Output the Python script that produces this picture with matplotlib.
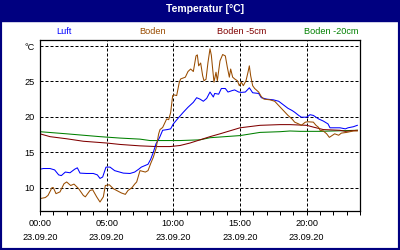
import matplotlib
matplotlib.use("Agg")
import matplotlib.pyplot as plt
from matplotlib.patches import Rectangle

# ── Data (hours since 00:00, °C) ──────────────────────────────────────────

luft_h = [0, 0.25, 0.75, 1.1, 1.4, 1.6, 1.9, 2.25, 2.6, 2.8, 3.0, 3.5, 4.0, 4.3,
          4.5, 4.7, 4.95, 5.25, 5.6, 6.25, 6.75, 7.1, 7.4, 7.6, 8.1, 8.3, 8.5,
          8.7, 8.95, 9.2, 9.55, 9.8, 10.0, 10.4, 10.75, 11.1, 11.5, 11.75, 12.0,
          12.25, 12.5, 12.75, 13.0, 13.1, 13.4, 13.6, 13.9, 14.1, 14.4, 14.6,
          14.9, 15.1, 15.4, 15.7, 15.95, 16.4, 16.6, 17.0, 17.5, 17.9, 18.25,
          18.6, 18.9, 19.1, 19.4, 19.6, 20.0, 20.25, 20.5, 20.9, 21.25, 21.6,
          21.75, 22.1, 22.5, 22.9, 23.1, 23.5, 23.8]
luft_t = [12.6, 12.7, 12.7, 12.5, 11.8, 11.7, 12.2, 12.1, 12.6, 12.8, 12.05, 12.0,
          12.0, 11.8, 11.3, 11.5, 12.9, 12.9, 12.4, 12.05, 12.0, 12.2, 12.6, 12.9,
          13.3, 14.0, 15.0, 16.2, 17.0, 18.1, 18.2, 18.3, 19.0, 19.9, 20.65,
          21.35, 22.05, 22.7, 22.5, 22.2, 22.6, 23.5, 22.8, 23.3, 23.2, 24.0,
          24.0, 23.5, 23.7, 23.8, 23.5, 23.45, 23.5, 24.1, 23.4, 23.3, 22.7,
          22.5, 22.4, 22.2, 21.7, 21.2, 20.9, 20.65, 20.2, 19.95, 19.95, 20.3,
          20.2, 19.7, 19.4, 19.0, 18.45, 18.45, 18.45, 18.3, 18.45, 18.6, 18.8]

boden_h = [0, 0.4, 0.6, 0.9, 1.0, 1.2, 1.5, 1.8, 2.0, 2.3, 2.55, 2.9, 3.25, 3.4,
           3.75, 3.95, 4.25, 4.5, 4.75, 4.9, 5.2, 5.5, 5.75, 6.1, 6.4, 6.6, 6.9,
           7.1, 7.25, 7.5, 7.9, 8.1, 8.3, 8.5, 8.7, 8.9, 9.0, 9.2, 9.4, 9.5,
           9.65, 9.8, 9.95, 10.05, 10.25, 10.45, 10.55, 10.9, 11.1, 11.3, 11.5,
           11.7, 11.8, 11.9, 12.05, 12.2, 12.3, 12.45, 12.6, 12.75, 12.85, 12.95,
           13.05, 13.2, 13.3, 13.5, 13.7, 13.9, 14.05, 14.2, 14.3, 14.45, 14.6,
           14.8, 14.95, 15.1, 15.25, 15.45, 15.6, 15.7, 15.8, 15.95, 16.1, 16.4,
           16.6, 16.8, 17.25, 17.6, 18.0, 18.25, 18.6, 18.9, 19.1, 19.4, 19.6,
           19.9, 20.1, 20.5, 20.7, 20.9, 21.0, 21.25, 21.5, 21.7, 21.9, 22.1,
           22.4, 22.6, 23.0, 23.5, 23.8]
boden_t = [8.45, 8.6, 8.9, 10.0, 10.0, 9.15, 9.4, 10.55, 10.8, 10.3, 10.5, 9.85,
           8.9, 8.7, 9.6, 9.7, 8.7, 7.97, 8.7, 10.3, 10.4, 9.85, 9.6, 9.25, 9.05,
           9.6, 10.0, 10.5, 10.8, 12.4, 12.2, 12.4, 13.4, 14.3, 15.5, 17.6, 18.2,
           18.5, 19.3, 19.7, 19.6, 20.6, 23.0, 23.1, 23.0, 24.9, 25.35, 25.6,
           26.4, 26.75, 26.4, 28.6, 28.75, 27.2, 27.6, 25.8, 25.1, 25.3, 27.7,
           29.6, 28.7, 26.75, 24.9, 26.3, 25.1, 27.9, 28.8, 28.6, 27.0, 25.6,
           26.75, 25.6, 25.35, 25.1, 24.4, 24.9, 24.4, 25.1, 26.3, 27.2, 25.8,
           24.4, 24.0, 23.5, 22.85, 22.5, 22.4, 22.2, 21.4, 20.9, 20.2, 19.7,
           19.25, 19.0, 18.8, 19.25, 19.3, 19.25, 18.8, 18.5, 18.1, 18.0, 17.6,
           17.1, 17.35, 17.6, 17.4, 17.7, 17.8, 18.0, 18.0]

b5_h = [0, 0.75, 2.0, 3.25, 5.0, 6.0, 7.5, 8.75, 9.75, 10.5, 11.25, 12.0, 12.75,
        13.5, 15.0, 16.5, 18.0, 18.75, 20.0, 20.5, 21.25, 22.5, 22.9, 23.8]
b5_t = [17.6, 17.2, 16.9, 16.55, 16.3, 16.1, 15.9, 15.8, 15.8, 15.95, 16.3, 16.75,
        17.2, 17.6, 18.45, 18.8, 18.9, 18.9, 18.8, 18.55, 18.2, 18.1, 17.95, 18.1]

b20_h = [0, 2.0, 4.5, 6.0, 7.5, 8.25, 10.5, 12.0, 12.75, 15.0, 16.5, 18.0, 18.75,
         19.5, 21.0, 23.8]
b20_t = [17.9, 17.6, 17.2, 17.0, 16.85, 16.65, 16.65, 16.75, 17.05, 17.35, 17.8,
         17.9, 18.0, 17.95, 17.95, 18.1]

series_names  = ["Luft", "Boden", "Boden -5cm", "Boden -20cm"]
series_colors = ["#0000ff", "#994c00", "#800000", "#008000"]

x_ticks  = [0, 5, 10, 15, 20]
x_labels = ["00:00\n23.09.20", "05:00\n23.09.20", "10:00\n23.09.20",
            "15:00\n23.09.20", "20:00\n23.09.20"]
y_ticks  = [10, 15, 20, 25, 30]
y_labels = ["10", "15", "20", "25", "°C"]

NAVY = "#000080"
FONT = "Liberation Sans"

# ── Figure ────────────────────────────────────────────────────────────────

fig = plt.figure(figsize=(4, 2.5), dpi=100)
fig.patch.set_facecolor("white")

# navy frame and title bar
fig.patches.append(Rectangle((0, 0), 1, 1, transform=fig.transFigure,
                             fill=False, edgecolor=NAVY, linewidth=3))
fig.patches.append(Rectangle((0, 1 - 21 / 250), 1, 21 / 250,
                             transform=fig.transFigure, color=NAVY))
fig.text(0.513, 1 - 8.5 / 250, "Temperatur [°C]", color="white",
         fontweight="bold", fontsize=7.5, family=FONT, ha="center", va="center")

legend_x = [64, 153, 242, 331]
for name, col, px in zip(series_names, series_colors, legend_x):
    fig.text(px / 400, 1 - 31 / 250, name, color=col, fontsize=6.6,
             family=FONT, ha="center", va="center")

ax = fig.add_axes([40 / 400, 1 - 211 / 250, 320 / 400, 171 / 250])
ax.set_xlim(0, 24)
ax.set_ylim(6.7, 30.85)

data = [(luft_h, luft_t), (boden_h, boden_t), (b5_h, b5_t), (b20_h, b20_t)]
# draw soil layers first so air/surface stay on top
for idx in [3, 2, 0, 1]:
    h, t = data[idx]
    ax.plot(h, t, color=series_colors[idx], linewidth=0.75)

for x in [5, 10, 15, 20]:
    ax.axvline(x, color="black", linewidth=0.72, linestyle=(0, (3, 2)), zorder=0)
for y in y_ticks:
    ax.axhline(y, color="black", linewidth=0.72, linestyle=(0, (3, 2)), zorder=0)

ax.set_xticks(x_ticks)
ax.set_xticklabels(x_labels, fontsize=6.6, family=FONT, linespacing=1.7)
ax.set_xticks(range(0, 25), minor=True)
ax.tick_params(axis="x", which="both", length=3, width=0.72, pad=3)
ax.set_yticks(y_ticks)
ax.set_yticklabels(y_labels, fontsize=6.6, family=FONT)
ax.tick_params(axis="y", length=0, pad=4)

for sp in ax.spines.values():
    sp.set_linewidth(0.9)

fig.savefig("out.png", dpi=100)
